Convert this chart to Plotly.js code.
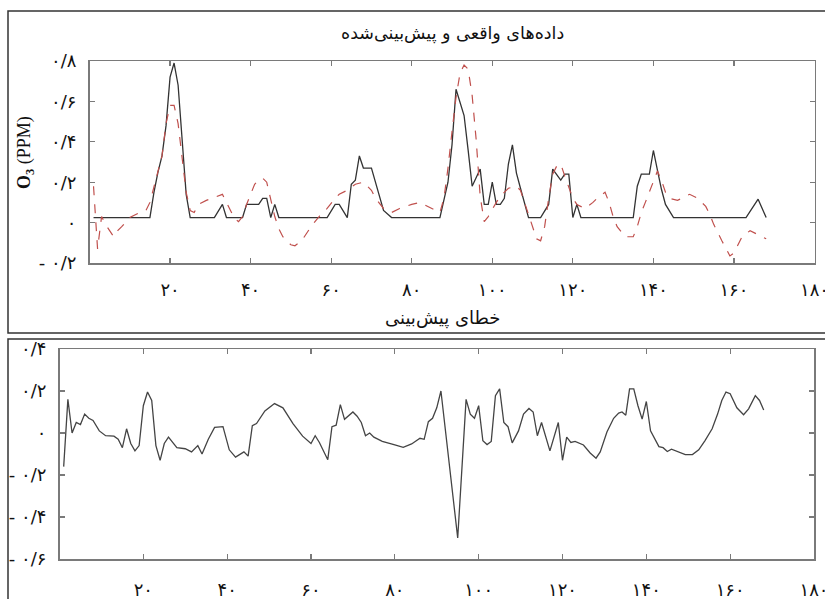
<!DOCTYPE html>
<html>
<head>
<meta charset="utf-8">
<script src="https://cdn.plot.ly/plotly-3.0.1.min.js"></script>
<style>html,body{margin:0;padding:0;background:#fff;}#chart{width:825px;height:599px;}</style>
</head>
<body>
<div id="chart"></div>
<script>
// ---- Data ----
const actualX = [1,15,16,17,18,19,20,21,22,23,24,25,31,33,34,38,39,42,43,44,45,46,47,59,61,62,64,65,66,67,68,70,71,73,75,87,89,90,91,92,93,94,95,97,98,99,100,101,102,103,104,105,106,107,108,109,112,114,115,116,117,118,119,120,121,122,135,136,137,139,140,141,142,143,145,163,166,168];
const actualY = [0.025,0.025,0.15,0.25,0.33,0.48,0.72,0.79,0.68,0.4,0.14,0.025,0.025,0.09,0.025,0.025,0.09,0.09,0.12,0.12,0.025,0.09,0.025,0.025,0.09,0.09,0.025,0.19,0.21,0.33,0.27,0.27,0.2,0.06,0.025,0.025,0.2,0.385,0.66,0.59,0.53,0.36,0.18,0.265,0.09,0.09,0.2,0.09,0.09,0.12,0.29,0.385,0.245,0.17,0.1,0.025,0.025,0.09,0.265,0.24,0.21,0.24,0.24,0.025,0.09,0.025,0.025,0.18,0.24,0.24,0.357,0.26,0.165,0.09,0.025,0.025,0.116,0.025];

const predX = [1,2,3,4,6,7,8,10,12,14,15,16,17,18,19,20,21,22,23,24,25,26,27,29,31,33,34,35,36,37,38,39,40,41,42,43,44,45,46,47,48,49,50,51,52,53,54,55,57,59,61,62,64,66,68,70,71,73,75,77,80,82,84,87,88,89,90,91,92,93,94,95,96,97,98,99,101,102,104,106,107,108,109,110,111,112,113,114,115,116,117,118,119,120,121,123,125,126,128,129,130,131,133,135,136,137,138,140,141,142,143,144,146,147,149,151,153,154,155,157,159,160,161,162,164,166,168];
const predY = [0.18,-0.13,0.03,-0.01,-0.07,-0.04,-0.02,0.025,0.045,0.06,0.1,0.18,0.26,0.33,0.49,0.58,0.58,0.49,0.32,0.15,0.06,0.05,0.09,0.11,0.125,0.14,0.1,0.06,0.02,0.005,0.03,0.09,0.14,0.19,0.21,0.22,0.2,0.12,0.03,-0.03,-0.07,-0.09,-0.11,-0.115,-0.1,-0.08,-0.05,-0.02,0.03,0.07,0.12,0.14,0.16,0.19,0.2,0.16,0.12,0.07,0.05,0.07,0.09,0.1,0.08,0.05,0.12,0.27,0.45,0.62,0.74,0.78,0.76,0.63,0.41,0.13,0.005,0.03,0.1,0.13,0.17,0.18,0.16,0.1,0.05,-0.02,-0.08,-0.09,-0.02,0.12,0.24,0.28,0.29,0.23,0.17,0.12,0.09,0.07,0.1,0.12,0.15,0.1,0.03,-0.02,-0.07,-0.07,-0.02,0.05,0.1,0.2,0.255,0.21,0.15,0.12,0.11,0.12,0.14,0.12,0.08,0.04,-0.01,-0.09,-0.165,-0.15,-0.11,-0.07,-0.04,-0.06,-0.08];

const errX = [1,2,3,4,5,6,7,8,9.5,11,13,14,15,16,17,18,19,20,21,22,23,24,25,26,28,30,31.5,33,34,35.5,37,39,40.5,42,44,45,46,47,49,51.3,53.3,55.7,58,60,61,62,64,65,66,67,68,70,71,72,73,74,75,77,80,82,84,86,87,88,89,90,91,95,97,98,99,100,101,102,103,104,105,106,107,108,109.5,110.7,112,113,114,115,117,119,120,121,122,123,125,126.6,128,129,130.6,132.2,133.4,134.2,135.1,136,137,138,139,140,141,143,144,145,146,147.7,149.3,151,152.5,154,155.7,157,158,159,160,161.6,163.2,164.4,166,167,168];
const errY = [-0.16,0.16,0.0,0.05,0.04,0.09,0.07,0.06,0.01,-0.013,-0.015,-0.03,-0.07,0.02,-0.05,-0.085,-0.06,0.13,0.195,0.155,-0.06,-0.13,-0.05,-0.02,-0.07,-0.075,-0.09,-0.06,-0.1,-0.03,0.027,0.03,-0.08,-0.115,-0.09,-0.11,0.035,0.045,0.105,0.14,0.12,0.045,-0.015,-0.05,-0.013,-0.045,-0.127,0.03,0.037,0.135,0.065,0.1,0.08,0.05,-0.013,0.0,-0.02,-0.04,-0.057,-0.068,-0.052,-0.025,-0.03,0.054,0.07,0.12,0.2,-0.5,0.16,0.09,0.07,0.13,-0.037,-0.055,-0.04,0.178,0.21,0.05,0.03,-0.047,0.01,0.09,0.117,0.1,-0.013,0.05,-0.085,0.05,-0.13,-0.02,-0.045,-0.04,-0.057,-0.095,-0.12,-0.09,0.005,0.07,0.095,0.1,0.085,0.21,0.21,0.13,0.066,0.15,0.01,-0.065,-0.07,-0.088,-0.077,-0.09,-0.103,-0.103,-0.08,-0.036,0.02,0.09,0.155,0.195,0.187,0.12,0.087,0.115,0.178,0.155,0.11];

const xTickVals = [20,40,60,80,100,120,140,160,180];
const xTickText = ['۲۰','۴۰','۶۰','۸۰','۱۰۰','۱۲۰','۱۴۰','۱۶۰','۱۸۰'];
const yTopVals = [-0.2,0,0.2,0.4,0.6,0.8];
const yTopText = ['- ۰/۲','۰','۰/۲','۰/۴','۰/۶','۰/۸'];
const yBotVals = [-0.6,-0.4,-0.2,0,0.2,0.4];
const yBotText = ['- ۰/۶','- ۰/۴','- ۰/۲','۰','۰/۲','۰/۴'];

const topTitle = 'داده‌های واقعی و پیش‌بینی‌شده';
const midTitle = 'خطای پیش‌بینی';
const yTitle = '<b>O<sub>3</sub></b> (PPM)';

// ---- Layout ----
const W = 825, H = 599;
const px = v => v / W;
const py = v => 1 - v / H;
const tickFont = {family: 'DejaVu Sans', size: 18, color: '#111'};
const axisCommon = {
  showline: true, mirror: 'ticks', linecolor: '#7a7a7a', linewidth: 1.5,
  ticks: 'inside', ticklen: 5, tickcolor: '#7a7a7a', tickwidth: 1.2,
  showgrid: false, zeroline: false, tickfont: tickFont,
  ticklabeloverflow: 'allow'
};

const traces = [
  {x: actualX, y: actualY, type: 'scatter', mode: 'lines', xaxis: 'x', yaxis: 'y',
   line: {color: '#333', width: 1.3}, hoverinfo: 'skip'},
  {x: predX, y: predY, type: 'scatter', mode: 'lines', xaxis: 'x', yaxis: 'y',
   line: {color: '#c0504d', width: 1.2, dash: 'dash'}, hoverinfo: 'skip'},
  {x: errX, y: errY, type: 'scatter', mode: 'lines', xaxis: 'x2', yaxis: 'y2',
   line: {color: '#444', width: 1.3}, hoverinfo: 'skip'}
];

const layout = {
  width: W, height: H,
  margin: {l: 0, r: 0, t: 0, b: 0},
  paper_bgcolor: '#fff', plot_bgcolor: '#fff',
  showlegend: false,
  xaxis: Object.assign({}, axisCommon, {
    domain: [px(89.5), px(814.5)], range: [0, 180], anchor: 'y',
    tickvals: xTickVals, ticktext: xTickText, ticklabelstandoff: 10
  }),
  yaxis: Object.assign({}, axisCommon, {
    domain: [py(263), py(61)], range: [-0.2, 0.8], anchor: 'x',
    tickvals: yTopVals, ticktext: yTopText, ticklabelstandoff: 8
  }),
  xaxis2: Object.assign({}, axisCommon, {
    domain: [px(59.5), px(814)], range: [0, 180], anchor: 'y2',
    tickvals: xTickVals, ticktext: xTickText, ticklabelstandoff: 14
  }),
  yaxis2: Object.assign({}, axisCommon, {
    domain: [py(559), py(349)], range: [-0.6, 0.4], anchor: 'x2',
    tickvals: yBotVals, ticktext: yBotText, ticklabelstandoff: 8
  }),
  annotations: [
    {text: topTitle, xref: 'paper', yref: 'paper', x: px(452), y: py(33),
     showarrow: false, xanchor: 'center', yanchor: 'middle',
     font: {family: 'DejaVu Sans', size: 17.5, color: '#111'}},
    {text: midTitle, xref: 'paper', yref: 'paper', x: px(442), y: py(318),
     showarrow: false, xanchor: 'center', yanchor: 'middle',
     font: {family: 'DejaVu Sans', size: 18, color: '#111'}},
    {text: yTitle, xref: 'paper', yref: 'paper', x: px(25), y: py(153),
     showarrow: false, textangle: -90, xanchor: 'center', yanchor: 'middle',
     font: {family: 'Liberation Serif', size: 18, color: '#111'}}
  ],
  shapes: [
    {type: 'rect', xref: 'paper', yref: 'paper', x0: px(8), x1: px(828), y0: py(333), y1: py(11),
     line: {color: '#333', width: 1.5}},
    {type: 'rect', xref: 'paper', yref: 'paper', x0: px(8), x1: px(828), y0: py(603), y1: py(339),
     line: {color: '#333', width: 1.5}}
  ]
};

Plotly.newPlot('chart', traces, layout, {displayModeBar: false, staticPlot: true});
</script>
</body>
</html>
